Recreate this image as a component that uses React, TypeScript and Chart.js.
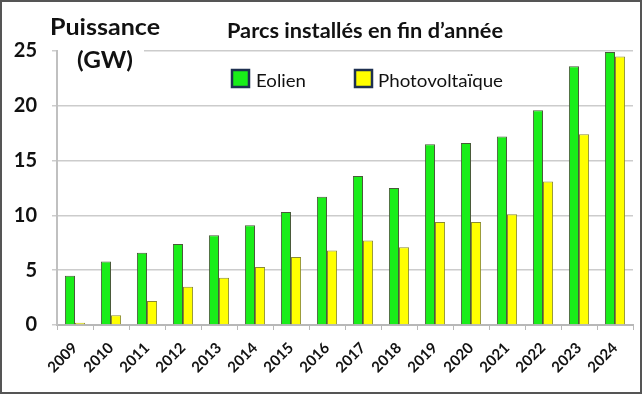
import React, { useEffect, useRef } from "react";
import { Chart, registerables } from "chart.js";

Chart.register(...registerables);

const years = ["2009", "2010", "2011", "2012", "2013", "2014", "2015", "2016", "2017", "2018", "2019", "2020", "2021", "2022", "2023", "2024"];
const eolien = [4.5, 5.8, 6.6, 7.4, 8.2, 9.1, 10.3, 11.7, 13.6, 12.5, 16.5, 16.6, 17.2, 19.6, 23.6, 24.9];
const photovoltaique = [0.2, 0.9, 2.2, 3.5, 4.3, 5.3, 6.2, 6.8, 7.7, 7.1, 9.4, 9.4, 10.1, 13.1, 17.4, 24.5];
const yTicks = [0, 5, 10, 15, 20, 25];

const titleText = "Parcs installés en fin d’année";
const unitLine1 = "Puissance";
const unitLine2 = "(GW)";
const seriesNames = ["Eolien", "Photovoltaïque"];

const GREEN = "#19ee19";
const YELLOW = "#ffff00";

function fitText(ctx: CanvasRenderingContext2D, text: string, x: number, y: number, width: number) {
  const w = ctx.measureText(text).width;
  const sx = w > 0 ? width / w : 1;
  ctx.save();
  ctx.translate(x, y);
  ctx.scale(sx, 1);
  ctx.fillText(text, 0, 0);
  ctx.restore();
}

const overlay = {
  id: "overlay",
  afterDraw(chart: any) {
    const ctx = chart.ctx;
    ctx.save();
    // white background behind unit label (hides start of top gridline)
    ctx.fillStyle = "#ffffff";
    ctx.fillRect(58, 45, 86, 12);

    ctx.fillStyle = "#111111";
    ctx.textBaseline = "alphabetic";
    ctx.textAlign = "left";
    ctx.font = "bold 22px Lato";
    fitText(ctx, unitLine1, 50, 35, 110);
    fitText(ctx, unitLine2, 77, 68, 56);

    ctx.font = "bold 21px Lato";
    fitText(ctx, titleText, 227, 38, 276);

    // legend
    const items = [
      { x: 232, color: GREEN, label: seriesNames[0], tx: 256, tw: 50 },
      { x: 355, color: YELLOW, label: seriesNames[1], tx: 378, tw: 125 },
    ];
    ctx.font = "18px Lato";
    for (const it of items) {
      ctx.fillStyle = it.color;
      ctx.fillRect(it.x, 70, 17, 17);
      ctx.lineWidth = 2.5;
      ctx.strokeStyle = "#1e3050";
      ctx.strokeRect(it.x, 70, 17, 17);
      ctx.fillStyle = "#111111";
      fitText(ctx, it.label, it.tx, 87, it.tw);
    }

    // outer frame
    ctx.lineWidth = 2;
    ctx.strokeStyle = "#555555";
    ctx.strokeRect(1, 1, 640, 392);
    ctx.restore();
  },
};

export default function App() {
  const ref = useRef<HTMLCanvasElement>(null);
  useEffect(() => {
    if (!ref.current) return;
    const chart = new Chart(ref.current, {
      type: "bar",
      data: {
        labels: years,
        datasets: [
          {
            label: seriesNames[0],
            data: eolien,
            backgroundColor: GREEN,
            borderColor: "#4a5a3a",
            borderWidth: 1,
            categoryPercentage: 0.56,
            barPercentage: 1,
          },
          {
            label: seriesNames[1],
            data: photovoltaique,
            backgroundColor: YELLOW,
            borderColor: "#8a8a30",
            borderWidth: 1,
            categoryPercentage: 0.56,
            barPercentage: 1,
          },
        ],
      },
      options: {
        responsive: false,
        animation: false,
        layout: { padding: { left: 0, top: 51, right: 10, bottom: 0 } },
        plugins: {
          legend: { display: false },
          title: { display: false },
          tooltip: { enabled: false },
        },
        scales: {
          x: {
            offset: true,
            grid: {
              display: true,
              drawOnChartArea: false,
              drawTicks: true,
              tickLength: 5,
              color: "#b8b8b8",
              offset: true,
            },
            border: { display: true, color: "#b8b8b8", width: 2 },
            ticks: {
              maxRotation: 45,
              minRotation: 45,
              autoSkip: false,
              padding: 9,
              color: "#111111",
              font: { family: "Lato", weight: "bold", size: 15 },
            },
            afterFit: (s: any) => {
              s.height = 70;
            },
          },
          y: {
            min: 0,
            max: 25,
            afterBuildTicks: (s: any) => {
              s.ticks = yTicks.map((v) => ({ value: v }));
            },
            grid: {
              color: "#cccccc",
              lineWidth: 1.5,
              drawTicks: true,
              tickLength: 5,
            },
            border: { display: true, color: "#c0c0c0", width: 2 },
            ticks: {
              padding: 15,
              color: "#111111",
              font: { family: "Lato", weight: "bold", size: 20 },
            },
            afterFit: (s: any) => {
              s.width = 57;
            },
          },
        },
      },
      plugins: [overlay],
    });
    return () => chart.destroy();
  }, []);
  return (
    <div style={{ position: "absolute", left: 0, top: 0, width: 643, height: 395, background: "#ffffff" }}>
      <canvas ref={ref} width={643} height={395} />
    </div>
  );
}
